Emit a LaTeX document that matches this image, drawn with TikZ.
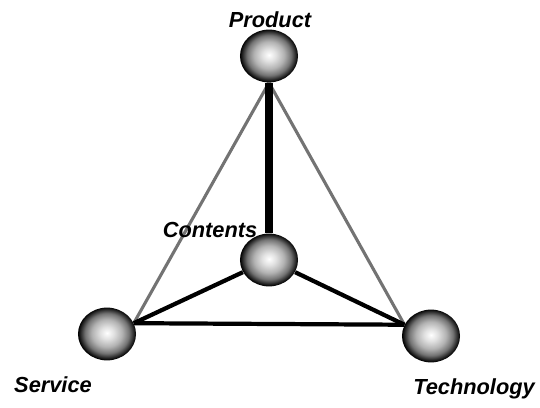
\documentclass[tikz,border=0pt]{standalone}
\usepackage{fontspec}
\setsansfont{Liberation Sans}
\usetikzlibrary{positioning,backgrounds,shapes.geometric}
\pgfdeclareradialshading{kouleshade}{\pgfpoint{0bp}{1bp}}{%
  color(0bp)=(white); color(6bp)=(white!88!black); color(13bp)=(gray!60);
  color(19bp)=(gray!90!black); color(23bp)=(black!85); color(25bp)=(black); color(50bp)=(black)}
\tikzset{
  koule/.style={ellipse,shading=kouleshade,minimum width=1.45cm,minimum height=1.32cm,inner sep=0pt},
  popis/.style={anchor=base,inner sep=0pt,font=\sffamily\bfseries\itshape\fontsize{15.5}{18}\selectfont},
  hrana/.style={line width=3pt},
  hranaT/.style={line width=5.8pt},
  hranaS/.style={draw=black!55,line width=2.2pt},
}
\begin{document}
\begin{tikzpicture}[x=0.025cm,y=-0.025cm]
\useasboundingbox (0,0) rectangle (540,408);
% vrcholy
\node[koule] (P) at (269,56) {};
\node[koule] (C) at (269,260) {};
\node[koule] (S) at (107,334) {};
\node[koule] (T) at (431,336) {};
% popisky
\node[popis] (lP) at (270,27) {Product};
\node[popis] (lC) at (210,237) {Contents};
\node[popis] (lS) at (53,392) {Service};
\node[popis] (lT) at (474,394) {Technology};
% hrany
\begin{scope}[on background layer]
  \draw[hranaS] (P.south) -- (S.22);
  \draw[hranaS] (P.south) -- (T.157);
  \draw[hranaT] (P.south) -- (C.north);
  \draw[hrana] (C.205) -- (S.22);
  \draw[hrana] (C.-25) -- (T.157);
  \draw[hrana] (S.22) -- (T.157);
\end{scope}
\end{tikzpicture}
\end{document}
